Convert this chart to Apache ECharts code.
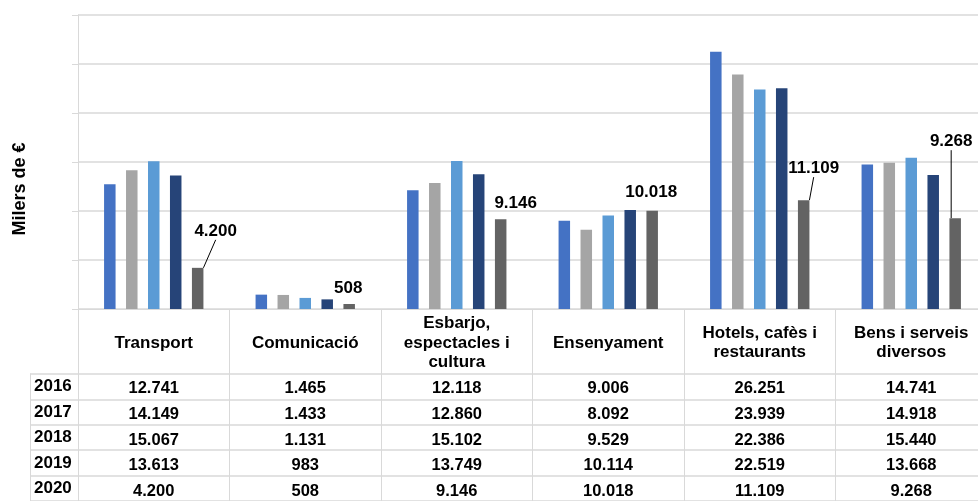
<!DOCTYPE html>
<html><head><meta charset="utf-8">
<script src="https://cdn.jsdelivr.net/npm/echarts@6/dist/echarts.min.js"></script>
<style>html,body{margin:0;padding:0;background:#fff;overflow:hidden;width:978px;height:501px}#c{width:987px;height:501px}</style>
</head><body><div id="c"></div>
<script>
// ---- data ----
const categories = ['Transport', 'Comunicació', 'Esbarjo,\nespectacles i\ncultura', 'Ensenyament', 'Hotels, cafès i\nrestaurants', 'Bens i serveis\ndiversos'];
const years = ['2016', '2017', '2018', '2019', '2020'];
const v2016 = [12741, 1465, 12118, 9006, 26251, 14741];
const v2017 = [14149, 1433, 12860, 8092, 23939, 14918];
const v2018 = [15067, 1131, 15102, 9529, 22386, 15440];
const v2019 = [13613, 983, 13749, 10114, 22519, 13668];
const v2020 = [4200, 508, 9146, 10018, 11109, 9268];
const yMin = 0, yMax = 30000, yInterval = 5000;
const yTitle = 'Milers de €';

// ---- styling / layout ----
const values = [v2016, v2017, v2018, v2019, v2020];
const colors = ['#4472C4', '#A5A5A5', '#5B9BD5', '#264478', '#636363'];
const labelShift = [[18, -23], [-1, -2], [15, -3], [-1, -5], [10, -18], [-4, -63]];
const leader = [true, false, false, false, true, true];
const fmt = v => String(v).replace(/\B(?=(\d{3})+(?!\d))/g, '.');
const FONT = '"Liberation Sans", Arial, sans-serif';
const GC = '#d9d9d9';
const plotTop = 15, axisY = 309, plotLeft = 78;
const headerH = 65, rowH = 25.8;

const chart = echarts.init(document.getElementById('c'), null, {renderer: 'canvas'});

const xAxes = [{
  type: 'category', gridIndex: 0, data: categories,
  axisLine: {show: true, lineStyle: {color: GC, width: 1}},
  axisTick: {show: true, interval: 0, length: 501 - axisY, lineStyle: {color: GC}},
  axisLabel: {interval: 0, margin: headerH / 2 + 1.5, verticalAlign: 'middle', lineHeight: 19.5,
    fontFamily: FONT, fontWeight: 'bold', fontSize: 17, color: '#000'},
  splitLine: {show: false}
}];
values.forEach((arr, i) => {
  xAxes.push({
    type: 'category', gridIndex: 0, data: arr.map(fmt), position: 'bottom',
    axisLine: {show: false}, axisTick: {show: false}, splitLine: {show: false},
    axisLabel: {interval: 0, margin: headerH + rowH * (i + 0.5) + 1.5, verticalAlign: 'middle',
      fontFamily: FONT, fontWeight: 'bold', fontSize: 16.5, color: '#000'}
  });
});
xAxes.push({type: 'value', gridIndex: 1, show: false});

const series = values.map((arr, i) => {
  const s = {
    name: years[i], type: 'bar', xAxisIndex: 0, yAxisIndex: 0,
    barWidth: 11.5, barGap: '91%',
    itemStyle: {color: colors[i]},
    data: arr.slice()
  };
  if (i === values.length - 1) {
    s.data = arr.map((v, k) => ({value: v, labelLine: {show: leader[k]}}));
    s.label = {show: true, position: 'top', formatter: p => fmt(p.value),
      fontFamily: FONT, fontWeight: 'bold', fontSize: 17, color: '#000'};
    s.labelLine = {show: true, lineStyle: {color: '#000', width: 1}};
    s.labelLayout = p => ({dx: labelShift[p.dataIndex][0], dy: labelShift[p.dataIndex][1]});
  }
  return s;
});

chart.setOption({
  animation: false,
  backgroundColor: '#fff',
  grid: [
    {left: plotLeft, top: plotTop, right: 0, height: axisY - plotTop, containLabel: false},
    {left: 30, top: axisY + headerH, right: 0, height: rowH * 5, containLabel: false}
  ],
  xAxis: xAxes,
  yAxis: [{
    type: 'value', gridIndex: 0, min: yMin, max: yMax, interval: yInterval,
    name: yTitle, nameLocation: 'middle', nameGap: 49, nameRotate: 90,
    nameTextStyle: {fontFamily: FONT, fontWeight: 'bold', fontSize: 18, color: '#000', padding: [0, 54, 0, 0]},
    axisLine: {show: true, lineStyle: {color: GC}},
    axisTick: {show: true, length: 6, lineStyle: {color: GC}},
    axisLabel: {show: false},
    splitLine: {show: true, lineStyle: {color: GC, width: 1.5}}
  }, {
    type: 'category', gridIndex: 1, data: years, inverse: true,
    axisLine: {show: true, lineStyle: {color: GC}},
    axisTick: {show: false},
    splitLine: {show: true, interval: 0, lineStyle: {color: GC, width: 1.5}},
    axisLabel: {inside: true, interval: 0, margin: 4, fontFamily: FONT, fontWeight: 'bold', fontSize: 17, color: '#000'}
  }],
  series: series
});
</script></body></html>
